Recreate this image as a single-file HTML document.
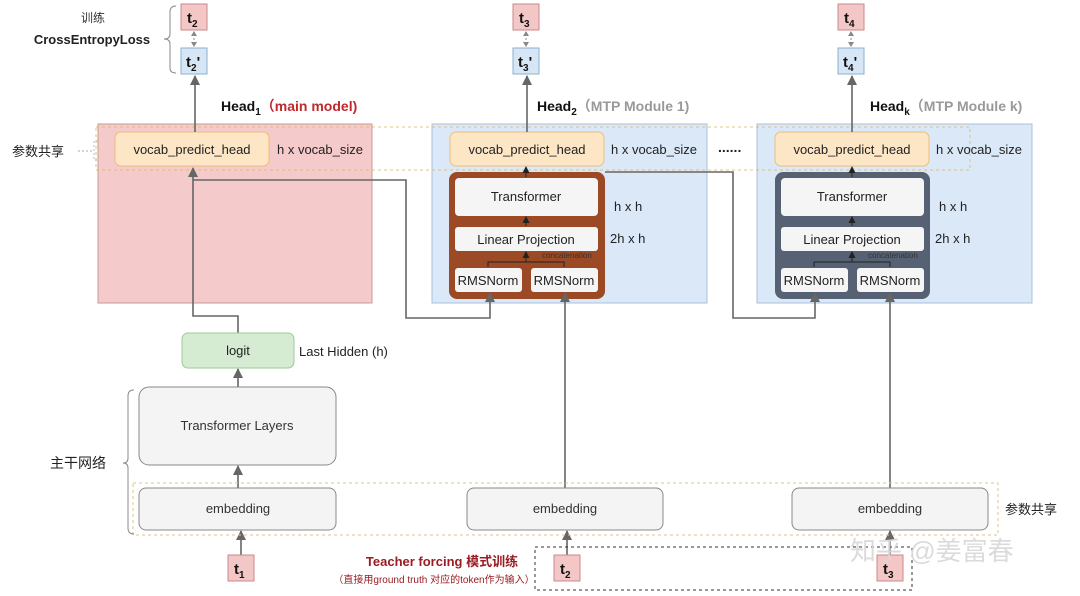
<!DOCTYPE html>
<html><head><meta charset="utf-8">
<style>
html,body{margin:0;padding:0;background:#fff;}
svg{display:block;}
text{font-family:"Liberation Sans","Noto Sans CJK SC",sans-serif;}
</style></head>
<body>
<svg width="1080" height="596" viewBox="0 0 1080 596" xmlns="http://www.w3.org/2000/svg">
<defs>
<marker id="ar" markerWidth="10" markerHeight="10" refX="9" refY="5" orient="auto" markerUnits="userSpaceOnUse" viewBox="0 0 10 10">
<path d="M0,0 L10,5 L0,10 Z" fill="#666"/>
</marker>
<marker id="ab" markerWidth="7" markerHeight="7" refX="6" refY="3.5" orient="auto" markerUnits="userSpaceOnUse" viewBox="0 0 7 7">
<path d="M0,0 L7,3.5 L0,7 Z" fill="#222"/>
</marker>
</defs>

<text x="93" y="22" font-size="12" fill="#333" text-anchor="middle">训练</text>
<text x="92" y="44" font-size="13" font-weight="bold" fill="#222" text-anchor="middle">CrossEntropyLoss</text>
<path d="M176,6 Q170,6 170,12 L170,34 Q170,39 164,39 Q170,39 170,44 L170,68 Q170,73 176,73" fill="none" stroke="#888" stroke-width="1"/>

<g font-size="15" font-weight="bold" fill="#111">
<rect x="181" y="4" width="26" height="26" fill="#f4c7c7" stroke="#c98a8a"/>
<text x="187" y="23">t<tspan font-size="10" dy="4">2</tspan></text>
<rect x="181" y="48" width="26" height="26" fill="#d6e6f5" stroke="#8ab0d0"/>
<text x="186" y="67">t<tspan font-size="10" dy="4">2</tspan><tspan dy="-4">'</tspan></text>
<rect x="513" y="4" width="26" height="26" fill="#f4c7c7" stroke="#c98a8a"/>
<text x="519" y="23">t<tspan font-size="10" dy="4">3</tspan></text>
<rect x="513" y="48" width="26" height="26" fill="#d6e6f5" stroke="#8ab0d0"/>
<text x="518" y="67">t<tspan font-size="10" dy="4">3</tspan><tspan dy="-4">'</tspan></text>
<rect x="838" y="4" width="26" height="26" fill="#f4c7c7" stroke="#c98a8a"/>
<text x="844" y="23">t<tspan font-size="10" dy="4">4</tspan></text>
<rect x="838" y="48" width="26" height="26" fill="#d6e6f5" stroke="#8ab0d0"/>
<text x="843" y="67">t<tspan font-size="10" dy="4">4</tspan><tspan dy="-4">'</tspan></text>
</g>
<g stroke="#888" stroke-width="1" stroke-dasharray="2,2">
<line x1="194" y1="34" x2="194" y2="44"/><line x1="526" y1="34" x2="526" y2="44"/><line x1="851" y1="34" x2="851" y2="44"/>
</g>
<g fill="#888">
<path d="M191,36 L194,31 L197,36Z"/><path d="M191,42 L194,47 L197,42Z"/>
<path d="M523,36 L526,31 L529,36Z"/><path d="M523,42 L526,47 L529,42Z"/>
<path d="M848,36 L851,31 L854,36Z"/><path d="M848,42 L851,47 L854,42Z"/>
</g>

<rect x="98" y="124" width="274" height="179" fill="#f5caca" stroke="#c99a9a"/>
<rect x="432" y="124" width="275" height="179" fill="#dae8f8" stroke="#a8c0dc"/>
<rect x="757" y="124" width="275" height="179" fill="#dae8f8" stroke="#a8c0dc"/>

<text x="221" y="111" font-size="14" font-weight="bold" fill="#111">Head<tspan font-size="10" dy="4">1</tspan><tspan dy="-4" fill="#c0282c">（main model)</tspan></text>
<text x="537" y="111" font-size="14" font-weight="bold" fill="#111">Head<tspan font-size="10" dy="4">2</tspan><tspan dy="-4" fill="#999">（MTP Module 1)</tspan></text>
<text x="870" y="111" font-size="14" font-weight="bold" fill="#111">Head<tspan font-size="10" dy="4">k</tspan><tspan dy="-4" fill="#999">（MTP Module k)</tspan></text>

<rect x="96" y="127" width="874" height="43" fill="none" stroke="#d9b56e" stroke-width="1" stroke-dasharray="3,3" opacity="0.8"/>
<text x="12" y="156" font-size="13" fill="#222">参数共享</text>
<line x1="78" y1="151" x2="94" y2="151" stroke="#aaa" stroke-dasharray="2,2"/>
<path d="M98,141 L94,141 L94,160 L98,160" fill="none" stroke="#bbb" stroke-dasharray="2,2"/>

<g font-size="13" fill="#222">
<rect x="115" y="132" width="154" height="34" rx="6" fill="#fde6c6" stroke="#ebbf7a"/>
<text x="192" y="154" text-anchor="middle">vocab_predict_head</text>
<text x="277" y="154">h x vocab_size</text>
<rect x="450" y="132" width="154" height="34" rx="6" fill="#fde6c6" stroke="#ebbf7a"/>
<text x="527" y="154" text-anchor="middle">vocab_predict_head</text>
<text x="611" y="154">h x vocab_size</text>
<rect x="775" y="132" width="154" height="34" rx="6" fill="#fde6c6" stroke="#ebbf7a"/>
<text x="852" y="154" text-anchor="middle">vocab_predict_head</text>
<text x="936" y="154">h x vocab_size</text>
</g>
<text x="718" y="152" font-size="14" font-weight="bold" fill="#222">......</text>

<g font-size="13" fill="#222">
<rect x="449" y="172" width="156" height="127" rx="8" fill="#9c4a26"/>
<rect x="455" y="178" width="143" height="38" rx="4" fill="#f5f5f5"/>
<text x="526" y="201" text-anchor="middle">Transformer</text>
<rect x="455" y="227" width="143" height="24" rx="3" fill="#f5f5f5"/>
<text x="526" y="244" text-anchor="middle">Linear Projection</text>
<rect x="455" y="268" width="67" height="24" rx="3" fill="#f5f5f5"/>
<text x="488" y="285" text-anchor="middle">RMSNorm</text>
<rect x="531" y="268" width="67" height="24" rx="3" fill="#f5f5f5"/>
<text x="564" y="285" text-anchor="middle">RMSNorm</text>
<text x="614" y="211">h x h</text>
<text x="610" y="243">2h x h</text>

<rect x="775" y="172" width="155" height="127" rx="8" fill="#566273"/>
<rect x="781" y="178" width="143" height="38" rx="4" fill="#f5f5f5"/>
<text x="852" y="201" text-anchor="middle">Transformer</text>
<rect x="781" y="227" width="143" height="24" rx="3" fill="#f5f5f5"/>
<text x="852" y="244" text-anchor="middle">Linear Projection</text>
<rect x="781" y="268" width="67" height="24" rx="3" fill="#f5f5f5"/>
<text x="814" y="285" text-anchor="middle">RMSNorm</text>
<rect x="857" y="268" width="67" height="24" rx="3" fill="#f5f5f5"/>
<text x="890" y="285" text-anchor="middle">RMSNorm</text>
<text x="939" y="211">h x h</text>
<text x="935" y="243">2h x h</text>
</g>
<g font-size="8" fill="#333">
<text x="542" y="258">concatenation</text>
<text x="868" y="258">concatenation</text>
</g>
<g stroke="#222" stroke-width="1" fill="none">
<path d="M488,267 L488,262 L564,262 L564,267"/>
<line x1="526" y1="262" x2="526" y2="252" marker-end="url(#ab)"/>
<line x1="526" y1="226" x2="526" y2="217" marker-end="url(#ab)"/>
<line x1="526" y1="177" x2="526" y2="167" marker-end="url(#ab)"/>
<path d="M814,267 L814,262 L890,262 L890,267"/>
<line x1="852" y1="262" x2="852" y2="252" marker-end="url(#ab)"/>
<line x1="852" y1="226" x2="852" y2="217" marker-end="url(#ab)"/>
<line x1="852" y1="177" x2="852" y2="167" marker-end="url(#ab)"/>
</g>

<g stroke="#666" stroke-width="1.6" fill="none">
<line x1="195" y1="132" x2="195" y2="76" marker-end="url(#ar)"/>
<line x1="527" y1="132" x2="527" y2="76" marker-end="url(#ar)"/>
<line x1="852" y1="132" x2="852" y2="76" marker-end="url(#ar)"/>
<path d="M238,333 L238,316 L193,316 L193,168" marker-end="url(#ar)"/>
<path d="M193,180 L406,180 L406,318 L490,318 L490,293" marker-end="url(#ar)"/>
<path d="M605,172 L733,172 L733,318 L815,318 L815,293" marker-end="url(#ar)"/>
<line x1="565" y1="489" x2="565" y2="293" marker-end="url(#ar)"/>
<line x1="890" y1="489" x2="890" y2="293" marker-end="url(#ar)"/>
<line x1="238" y1="387" x2="238" y2="369" marker-end="url(#ar)"/>
<line x1="238" y1="488" x2="238" y2="466" marker-end="url(#ar)"/>
<line x1="241" y1="555" x2="241" y2="531" marker-end="url(#ar)"/>
<line x1="567" y1="555" x2="567" y2="531" marker-end="url(#ar)"/>
<line x1="890" y1="555" x2="890" y2="531" marker-end="url(#ar)"/>
</g>

<rect x="182" y="333" width="112" height="35" rx="6" fill="#d5ecd2" stroke="#9ccb98"/>
<text x="238" y="355" font-size="13" fill="#222" text-anchor="middle">logit</text>
<text x="299" y="356" font-size="13" fill="#222">Last Hidden (h)</text>
<rect x="139" y="387" width="197" height="78" rx="10" fill="#f4f4f4" stroke="#888"/>
<text x="237" y="430" font-size="13" fill="#333" text-anchor="middle">Transformer Layers</text>

<rect x="133" y="483" width="865" height="52" fill="none" stroke="#d9c58e" stroke-dasharray="3,3"/>
<g font-size="13" fill="#333">
<rect x="139" y="488" width="197" height="42" rx="7" fill="#f4f4f4" stroke="#888"/>
<text x="238" y="513" text-anchor="middle">embedding</text>
<rect x="467" y="488" width="196" height="42" rx="7" fill="#f4f4f4" stroke="#888"/>
<text x="565" y="513" text-anchor="middle">embedding</text>
<rect x="792" y="488" width="196" height="42" rx="7" fill="#f4f4f4" stroke="#888"/>
<text x="890" y="513" text-anchor="middle">embedding</text>
</g>
<text x="1005" y="514" font-size="13" fill="#222">参数共享</text>
<path d="M134,390 Q128,390 128,396 L128,458 Q128,463 123,463 Q128,463 128,468 L128,528 Q128,534 134,534" fill="none" stroke="#888"/>
<text x="50" y="468" font-size="14" fill="#222">主干网络</text>

<rect x="535" y="547" width="377" height="43" fill="none" stroke="#333" stroke-dasharray="3,3"/>
<g font-size="15" font-weight="bold" fill="#111">
<rect x="228" y="555" width="26" height="26" fill="#f4c7c7" stroke="#c98a8a"/>
<text x="234" y="574">t<tspan font-size="10" dy="4">1</tspan></text>
<rect x="554" y="555" width="26" height="26" fill="#f4c7c7" stroke="#c98a8a"/>
<text x="560" y="574">t<tspan font-size="10" dy="4">2</tspan></text>
<rect x="877" y="555" width="26" height="26" fill="#f4c7c7" stroke="#c98a8a"/>
<text x="883" y="574">t<tspan font-size="10" dy="4">3</tspan></text>
</g>
<text x="442" y="566" font-size="13" font-weight="bold" fill="#9a1c22" text-anchor="middle">Teacher forcing 模式训练</text>
<text x="434" y="583" font-size="10" fill="#9a1c22" text-anchor="middle">（直接用ground truth 对应的token作为输入）</text>

<text x="850" y="560" font-size="26" fill="#d8d8d8" opacity="0.9">知乎 @姜富春</text>
</svg>
</body></html>
